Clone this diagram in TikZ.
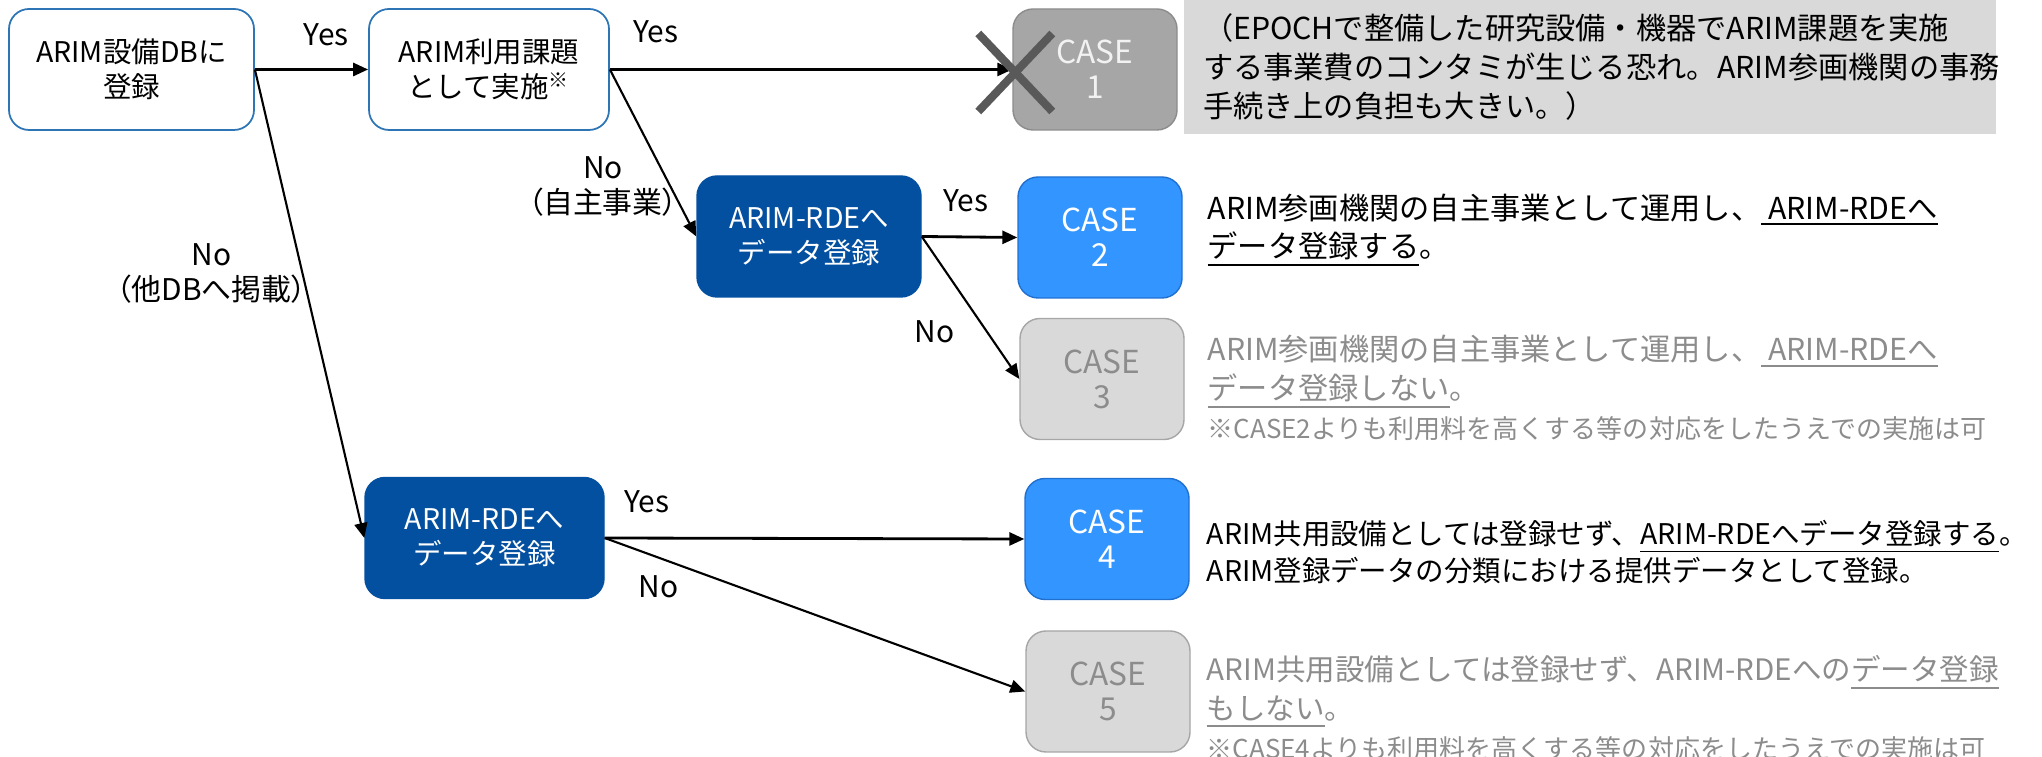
\documentclass[tikz,border=0pt]{standalone}
\usepackage{fontspec}
\setmainfont{Noto Sans CJK JP}
\newfontfamily\paltfont{Noto Sans CJK JP}[RawFeature=+palt]
\usepackage{tikz}
\usetikzlibrary{shapes,arrows.meta,calc,positioning}

\definecolor{boxline}{HTML}{2E75B6}
\definecolor{rdeblue}{HTML}{0450A0}
\definecolor{caseblue}{HTML}{3395FF}
\definecolor{caseline}{HTML}{2070D0}
\definecolor{deadgray}{HTML}{A6A6A6}
\definecolor{deadline}{HTML}{8C8C8C}
\definecolor{crossgray}{HTML}{595959}
\definecolor{notegray}{HTML}{D9D9D9}
\definecolor{offline}{HTML}{A6A6A6}
\definecolor{dimtext}{HTML}{8C8C8C}

\begin{document}
\begin{tikzpicture}[line join=round,
  font=\fontsize{8.5}{10}\selectfont,
  flowbox/.style={draw=boxline, fill=white, rounded corners=0.2cm, minimum height=1.21cm, align=center, line width=0.5pt, font=\fontsize{8.1}{10}\selectfont},
  rdebox/.style={draw=rdeblue, fill=rdeblue, text=white, rounded corners=0.2cm, minimum width=2.24cm, minimum height=1.21cm, align=center, font=\fontsize{8.1}{10}\selectfont},
  casebox/.style={draw=caseline, fill=caseblue, text=white, rounded corners=0.2cm, minimum width=1.64cm, minimum height=1.21cm, align=center, font=\fontsize{9}{10}\selectfont},
  offbox/.style={casebox, draw=offline, fill=notegray, text=dimtext},
  desc/.style={anchor=west, inner sep=0pt, align=left, font=\fontsize{8.6}{11}\selectfont},
  arr/.style={-{Triangle[length=1.5mm,width=1.3mm]}, line width=0.8pt},
  slant/.style={arr, line width=0.6pt},
  nolabel/.style={anchor=east, align=center, font=\paltfont\fontsize{8.5}{10}\selectfont}
]

\useasboundingbox (0,0) rectangle (20.42,7.57);

% first row
\node[flowbox, minimum width=2.45cm] (reg) at (1.315,6.875) {ARIM設備DBに\\登録};
\node[flowbox, minimum width=2.40cm] (task) at (4.89,6.875) {ARIM利用課題\\として実施\textsuperscript{※}};
\node[casebox, draw=deadline, fill=deadgray, text=white!95!black] (case1) at (10.95,6.875) {CASE\\1};
\node[fill=notegray, minimum width=8.12cm, minimum height=1.34cm, text width=7.74cm, inner xsep=0.19cm, align=left, font=\fontsize{8.6}{11}\selectfont] (note1) at (15.90,6.90)
{（EPOCHで整備した研究設備・機器でARIM課題を実施\\する事業費のコンタミが生じる恐れ。ARIM参画機関の事務\\手続き上の負担も大きい。）};

% second branch
\node[rdebox] (rde1) at (8.09,5.205) {ARIM-RDEへ\\データ登録};
\node[casebox] (case2) at (11.00,5.195) {CASE\\2};
\node[offbox] (case3) at (11.02,3.78) {CASE\\3};

% third branch
\node[rdebox, minimum width=2.39cm] (rde2) at (4.845,2.19) {ARIM-RDEへ\\データ登録};
\node[casebox] (case4) at (11.07,2.18) {CASE\\4};
\node[offbox] (case5) at (11.08,0.655) {CASE\\5};

% explanations
\node[desc] (txt2) at (12.07,5.265) {ARIM参画機関の自主事業として運用し、\underline{\ ARIM-RDEへ}\\\underline{データ登録する}。};
\node[desc, text=dimtext] (txt3) at (12.07,3.69) {ARIM参画機関の自主事業として運用し、\underline{\ ARIM-RDEへ}\\\underline{データ登録しない}。\\{\fontsize{7.4}{9.5}\selectfont ※CASE2よりも利用料を高くする等の対応をしたうえでの実施は可}};
\node[desc, font=\fontsize{8.1}{10.6}\selectfont] (txt4) at (12.06,2.05) {ARIM共用設備としては登録せず、\underline{ARIM-RDEへデータ登録する}。\\ARIM登録データの分類における提供データとして登録。};
\node[desc, text=dimtext, font=\fontsize{8.4}{11}\selectfont] (txt5) at (12.06,0.49) {ARIM共用設備としては登録せず、ARIM-RDEへの\underline{データ登録}\\\underline{もしない}。\\{\fontsize{7.4}{9.5}\selectfont ※CASE4よりも利用料を高くする等の対応をしたうえでの実施は可}};

% connectors
\draw[arr] (reg.east) -- node[pos=0.63, above=1mm] {Yes} (task.west);
\draw[slant] (reg.east) -- node[pos=0.435, nolabel, xshift=1.7mm] {No\\（他DBへ掲載）} (rde2.west);
\draw[arr] (task.east) -- node[pos=0.114, above=1.3mm] {Yes} (case1.west);
\draw[slant] (task.east) -- node[pos=0.70, nolabel, xshift=2mm] {No\\（自主事業）} (rde1.west);
\draw[arr] (rde1.east) -- node[pos=0.46, above=1.2mm] {Yes} (case2.west);
\draw[slant] (rde1.east) -- node[pos=0.67, left=2mm] {No} (case3.west);
\draw[arr] (rde2.east) -- node[pos=0.10, above=1.2mm] {Yes} (case4.west);
\draw[slant] (rde2.east) -- node[pos=0.128, below=0.5mm] {No} (case5.west);

% cross over case 1
\draw[crossgray, line width=2.3pt] ($(case1.west)+(-0.34,0.36)$) -- ($(case1.west)+(0.40,-0.42)$);
\draw[crossgray, line width=2.3pt] ($(case1.west)+(0.40,0.36)$) -- ($(case1.west)+(-0.34,-0.42)$);

\end{tikzpicture}
\end{document}
